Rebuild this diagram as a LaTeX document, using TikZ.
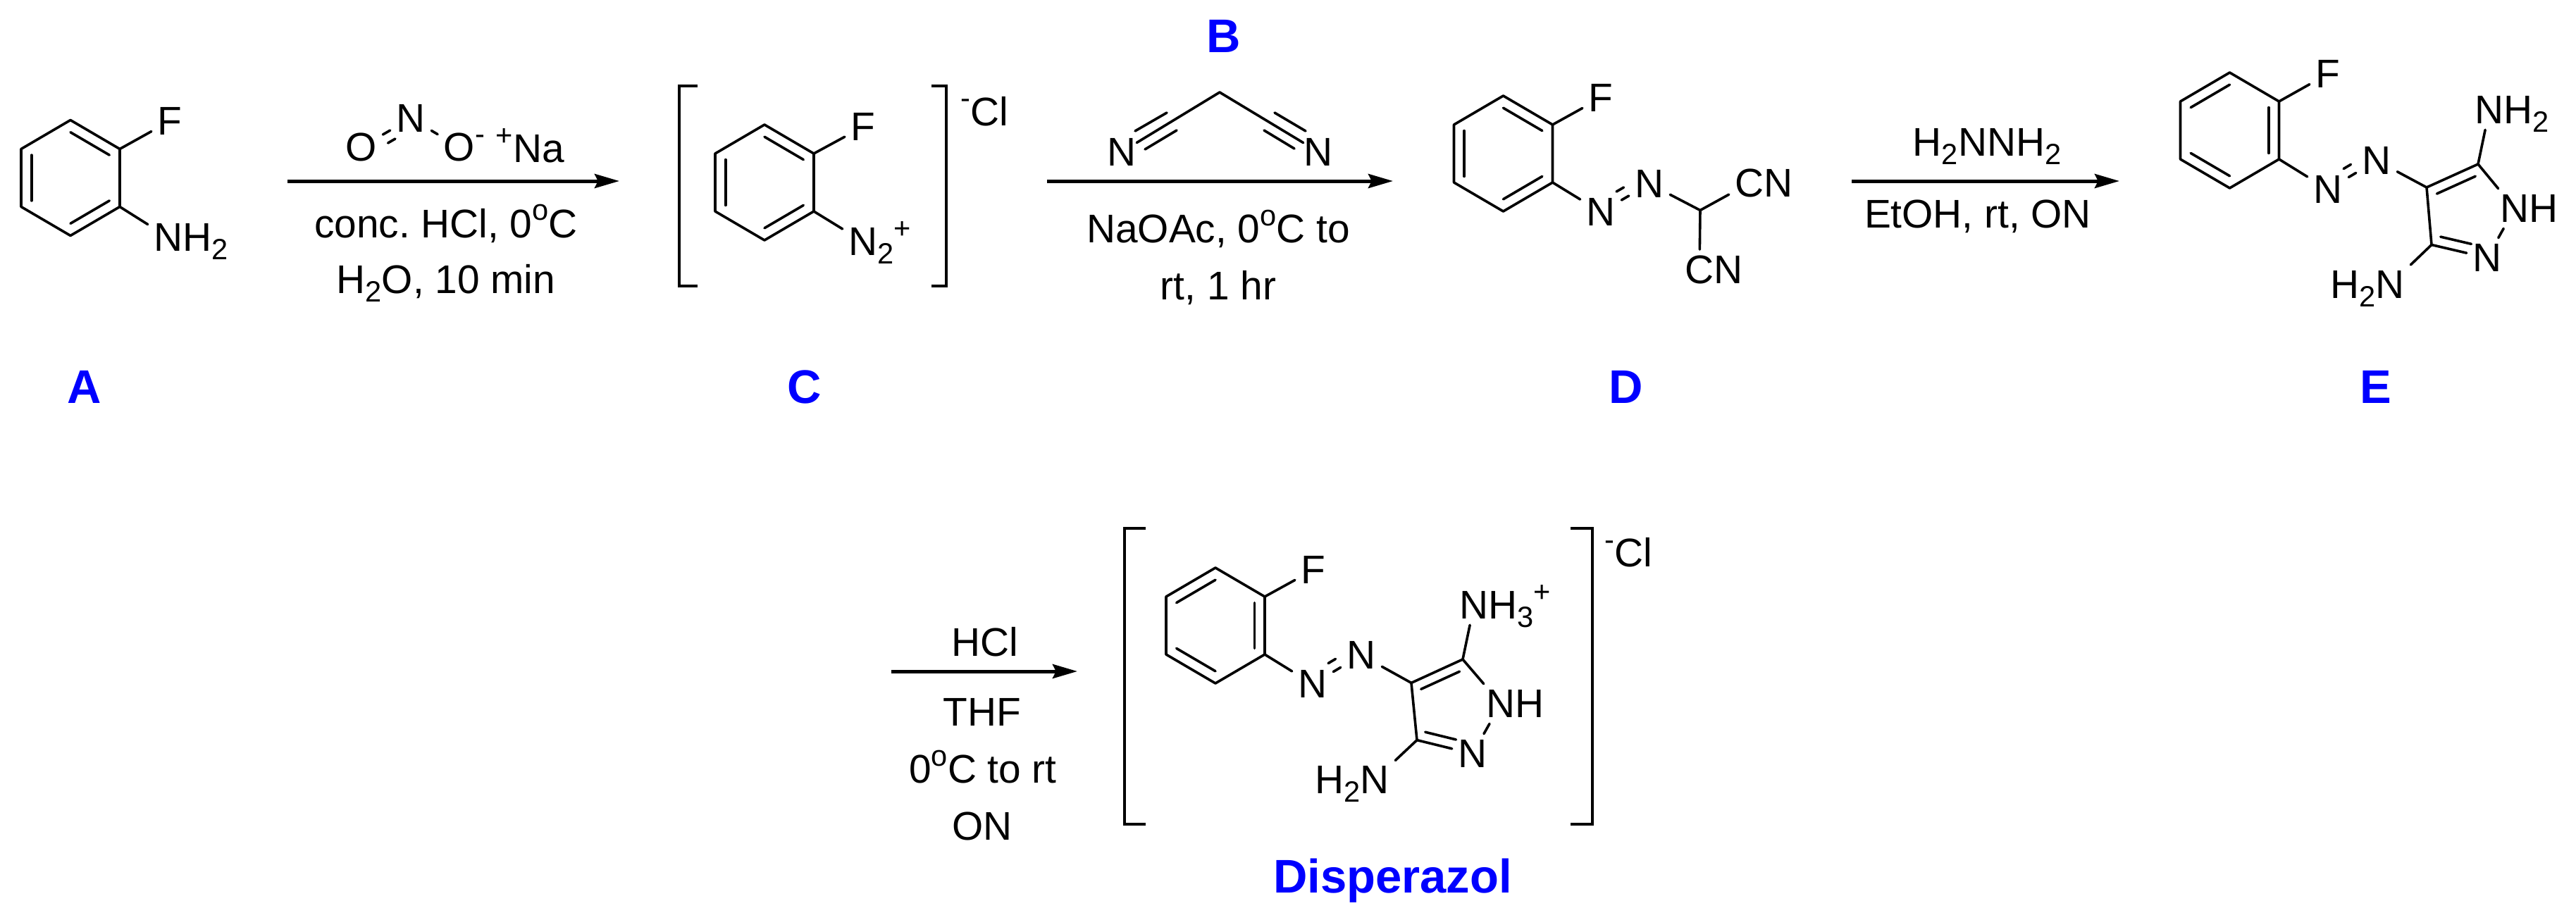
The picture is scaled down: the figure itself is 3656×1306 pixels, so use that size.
\documentclass[tikz,border=0pt]{standalone}
\usepackage{fontspec}
\setmainfont{Liberation Sans}
\usetikzlibrary{arrows.meta,calc}
\newcommand{\sps}[1]{\smash{\raisebox{6pt}{\fontsize{10.4}{12}\selectfont #1}}}
\newcommand{\sbs}[1]{\smash{\raisebox{-3pt}{\fontsize{10.4}{12}\selectfont #1}}}
\frenchspacing
\tikzset{
    bond-line/.style = {line width=0.9pt, line join=round, line cap=round},
    bracket-line/.style = {line width=1pt, line join=miter},
    reaction-arrow/.style = {line width=1.25pt, -{Stealth[length=8.75pt, width=5pt, inset=1.2pt]}},
    atom-label/.style = {inner sep=2pt, font=\fontsize{14.2}{16}\selectfont},
    tight-atom/.style = {atom-label, inner sep=0pt},
    reagent-text/.style = {anchor=base, inner sep=0pt, font=\fontsize{14.2}{16}\selectfont},
    compound-tag/.style = {anchor=base, inner sep=0pt, text=blue, font=\fontsize{16.75}{20}\selectfont\bfseries},
    shift-up/.style = {transform canvas={xshift=-1.8pt, yshift=3pt}},
    shift-down/.style = {transform canvas={xshift=1.8pt, yshift=-3pt}},
}
\begin{document}
\begin{tikzpicture}[x=0.25pt, y=-0.25pt]
\useasboundingbox (0,0) rectangle (3656,1306);

\foreach \ring/\x/\y in {a/100/252.5, c/1085/259, d/2133.5/218, e/3164.5/185, p/1725/888} {
    \coordinate (\ring0) at (\x,\y);
    \coordinate (\ring1) at (\x,\y-82);
    \coordinate (\ring2) at (\x+70,\y-41);
    \coordinate (\ring3) at (\x+70,\y+41);
    \coordinate (\ring4) at (\x,\y+82);
    \coordinate (\ring5) at (\x-70,\y+41);
    \coordinate (\ring6) at (\x-70,\y-41);
    \draw[bond-line] (\ring1) -- (\ring2) -- (\ring3) -- (\ring4) -- (\ring5) -- (\ring6) -- cycle;
}
\foreach \ring in {a,c,d}
    \foreach \p/\q in {1/2,3/4,5/6}
        \draw[bond-line] ($(\ring\p)!.21!(\ring0)$) -- ($(\ring\q)!.21!(\ring0)$);
\foreach \ring in {e,p}
    \foreach \p/\q in {6/1,2/3,4/5}
        \draw[bond-line] ($(\ring\p)!.21!(\ring0)$) -- ($(\ring\q)!.21!(\ring0)$);

\node[atom-label] (aF) at (241,172) {F};
\node[atom-label] (aN) at (239,337) {N\rlap{H\sbs{2}}};
\draw[bond-line] (a2) -- (aF);
\draw[bond-line] (a3) -- (aN);
\node[compound-tag] (tagA) at (120,572) {A};

\node[atom-label] (nO) at (512.5,209) {O};
\node[atom-label] (nN) at (583,168) {N};
\node[atom-label] (nM) at (652,209) {O\rlap{\sps{-}}};
\node[reagent-text, anchor=base west] (nNa) at (703,230) {\sps{+}Na};
\draw[bond-line] (nO) -- (nN);
\draw[bond-line, shift-down] (nO) -- (nN);
\draw[bond-line] (nN) -- (nM);
\coordinate (r1s) at (408,257);
\coordinate (r1e) at (879,257);
\draw[reaction-arrow] (r1s) -- (r1e);
\node[reagent-text] (r1a) at (633,337) {conc. HCl, 0\sps{o}C};
\node[reagent-text] (r1b) at (633,416) {H\sbs{2}O, 10 min};

\draw[bracket-line] (990,122) -- (964,122) -- (964,406) -- (990,406);
\draw[bracket-line] (1322,122) -- (1343,122) -- (1343,406) -- (1322,406);
\node[atom-label] (cF) at (1225,180) {F};
\node[atom-label] (cN) at (1225,343) {N\rlap{\sbs{2}\sps{+}}};
\draw[bond-line] (c2) -- (cF);
\draw[bond-line] (c3) -- (cN);
\node[reagent-text, anchor=base west] (cCl) at (1363,178) {\sps{-}Cl};
\node[compound-tag] (tagC) at (1142,572) {C};

\node[compound-tag] (tagB) at (1737,75) {B};
\coordinate (bC) at (1731,131);
\node[tight-atom] (bNl) at (1592,215.5) {N};
\node[tight-atom] (bNr) at (1871,215.5) {N};
\draw[bond-line] (bNl) -- (bC) -- (bNr);
\foreach \n/\x/\y in {bLa/1611/186, bLb/1656/160, bLc/1625/212, bLd/1670/185, bRa/1853/186, bRb/1809/160, bRc/1837/211, bRd/1794/185}
    \coordinate (\n) at (\x,\y);
\draw[bond-line] (bLa) -- (bLb);
\draw[bond-line] (bLc) -- (bLd);
\draw[bond-line] (bRa) -- (bRb);
\draw[bond-line] (bRc) -- (bRd);
\coordinate (r2s) at (1486,257);
\coordinate (r2e) at (1977,257);
\draw[reaction-arrow] (r2s) -- (r2e);
\node[reagent-text] (r2a) at (1729,344) {NaOAc, 0\sps{o}C to};
\node[reagent-text] (r2b) at (1729,425) {rt, 1 hr};

\node[atom-label] (dF) at (2272,139) {F};
\node[atom-label] (dNa) at (2272,301) {N};
\node[atom-label] (dNb) at (2341,261) {N};
\coordinate (dC) at (2413,298.5);
\node[atom-label] (dCa) at (2483,260) {C\rlap{N}};
\node[atom-label] (dCb) at (2412,383) {C\rlap{N}};
\draw[bond-line] (d2) -- (dF);
\draw[bond-line] (d3) -- (dNa);
\draw[bond-line] (dNa) -- (dNb);
\draw[bond-line, shift-up] (dNa) -- (dNb);
\draw[bond-line] (dNb) -- (dC);
\draw[bond-line] (dC) -- (dCa);
\draw[bond-line] (dC) -- (dCb);
\node[compound-tag] (tagD) at (2308,572) {D};

\coordinate (r3s) at (2628,257);
\coordinate (r3e) at (3008,257);
\draw[reaction-arrow] (r3s) -- (r3e);
\node[reagent-text] (r3a) at (2820,221) {H\sbs{2}NNH\sbs{2}};
\node[reagent-text] (r3b) at (2807,323) {EtOH, rt, ON};

\node[atom-label] (eF) at (3304,105) {F};
\node[atom-label] (eNa) at (3304,269) {N};
\node[atom-label] (eNb) at (3373,228) {N};
\coordinate (eC4) at (3444,266);
\coordinate (eC5) at (3517,233);
\coordinate (eC3) at (3451,347.5);
\coordinate (eC0) at (3502,302);
\node[atom-label] (eNt) at (3533,156) {N\rlap{H\sbs{2}}};
\node[atom-label] (eNh) at (3569,296) {N\rlap{H}};
\node[atom-label] (eNl) at (3530,366) {N};
\node[atom-label] (eNd) at (3392,404) {\llap{H\sbs{2}}N};
\draw[bond-line] (e2) -- (eF);
\draw[bond-line] (e3) -- (eNa);
\draw[bond-line] (eNa) -- (eNb);
\draw[bond-line, shift-up] (eNa) -- (eNb);
\draw[bond-line] (eNb) -- (eC4);
\draw[bond-line] (eNl) -- (eC3) -- (eC4) -- (eC5) -- (eNh);
\draw[bond-line] (eC5) -- (eNt);
\draw[bond-line] (eNh) -- (eNl);
\draw[bond-line] (eC3) -- (eNd);
\draw[bond-line] ($(eC4)!.25!(eC0)$) -- ($(eC5)!.25!(eC0)$);
\draw[bond-line, shorten >=4pt] ($(eC3)!.25!(eC0)$) -- ($(eNl)!.25!(eC0)$);
\node[compound-tag] (tagE) at (3372,572) {E};

\coordinate (r4s) at (1265,953);
\coordinate (r4e) at (1529,953);
\draw[reaction-arrow] (r4s) -- (r4e);
\node[reagent-text] (r4a) at (1398,931) {HCl};
\node[reagent-text] (r4b) at (1394,1030) {THF};
\node[reagent-text] (r4c) at (1395,1111) {0\sps{o}C to rt};
\node[reagent-text] (r4d) at (1394,1192) {ON};

\draw[bracket-line] (1626,750) -- (1596,750) -- (1596,1170) -- (1626,1170);
\draw[bracket-line] (2229,750) -- (2260,750) -- (2260,1170) -- (2229,1170);
\node[reagent-text, anchor=base west] (pCl) at (2277,804) {\sps{-}Cl};

\node[atom-label] (pF) at (1864,809) {F};
\node[atom-label] (pNa) at (1863,971) {N};
\node[atom-label] (pNb) at (1932,930) {N};
\coordinate (pC4) at (2003,969.4);
\coordinate (pC5) at (2076,936);
\coordinate (pC3) at (2011,1050.6);
\coordinate (pC0) at (2058,1005);
\node[atom-label] (pNt) at (2092,859) {N\rlap{H\sbs{3}\sps{+}}};
\node[atom-label] (pNh) at (2130,999) {N\rlap{H}};
\node[atom-label] (pNl) at (2090,1070) {N};
\node[atom-label] (pNd) at (1951,1107) {\llap{H\sbs{2}}N};
\draw[bond-line] (p2) -- (pF);
\draw[bond-line] (p3) -- (pNa);
\draw[bond-line] (pNa) -- (pNb);
\draw[bond-line, shift-up] (pNa) -- (pNb);
\draw[bond-line] (pNb) -- (pC4);
\draw[bond-line] (pNl) -- (pC3) -- (pC4) -- (pC5) -- (pNh);
\draw[bond-line] (pC5) -- (pNt);
\draw[bond-line] (pNh) -- (pNl);
\draw[bond-line] (pC3) -- (pNd);
\draw[bond-line] ($(pC4)!.25!(pC0)$) -- ($(pC5)!.25!(pC0)$);
\draw[bond-line, shorten >=4pt] ($(pC3)!.25!(pC0)$) -- ($(pNl)!.25!(pC0)$);
\node[compound-tag] (tagP) at (1976.5,1267) {Disperazol};
\end{tikzpicture}
\end{document}
